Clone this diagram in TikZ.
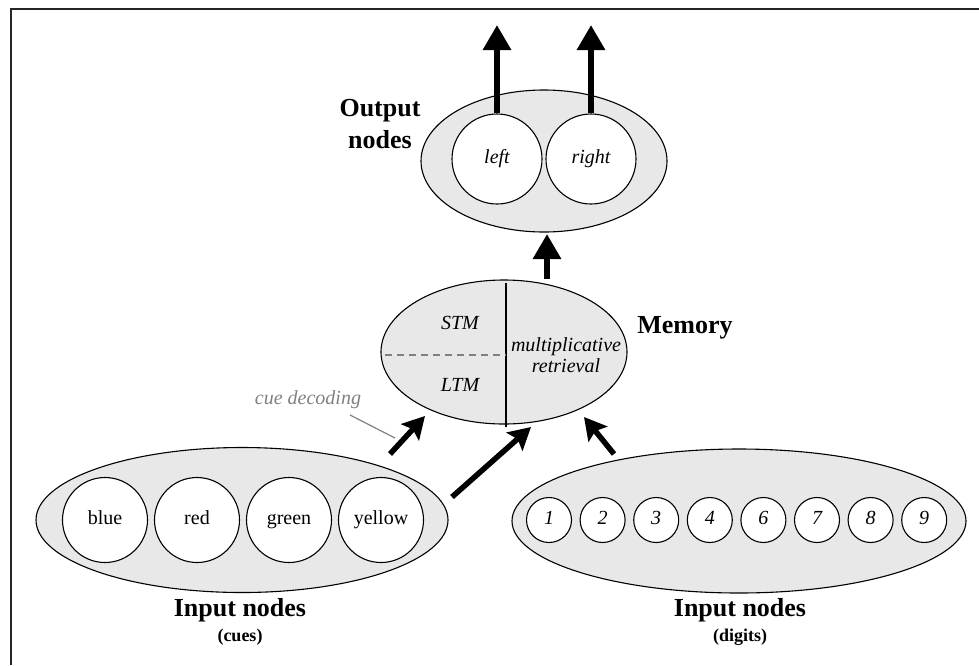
\documentclass[tikz,border=0pt]{standalone}
\usepackage{fontspec}
\setmainfont{Liberation Serif}
\usetikzlibrary{shapes.geometric,arrows.meta}
\begin{document}
\begin{tikzpicture}[x=1pt,y=-1pt,
  group/.style={ellipse,draw,line width=1.1pt,fill=gray!18,inner sep=0pt},
  unit/.style={circle,draw,line width=1.1pt,fill=white,inner sep=0pt,text height=13pt,text depth=4pt,font=\fontsize{20}{24}\selectfont},
  digit/.style={unit,minimum size=45pt,font=\fontsize{20}{24}\selectfont\itshape},
  cue/.style={unit,minimum size=85pt},
  outunit/.style={unit,minimum size=90pt,font=\fontsize{20}{24}\selectfont\itshape},
  title/.style={font=\fontsize{26}{32}\selectfont\bfseries,align=center,inner sep=0pt},
  sub/.style={font=\fontsize{18}{22}\selectfont\bfseries,inner sep=0pt},
  lab/.style={font=\fontsize{20}{21}\selectfont\itshape,align=center,inner sep=0pt},
  bigarrow/.style={line width=6pt,-{Triangle[length=25pt,width=27pt]}},
  midarrow/.style={line width=5.5pt,-{Stealth[length=22pt,width=24pt,inset=4pt]}}
]
\useasboundingbox (0,0) rectangle (979,665);
% frame
\draw[line width=1.2pt,black!85] (979,9) -- (11,9) -- (11,665);

% output group
\node[group,minimum width=246pt,minimum height=142pt] (outg) at (544,161) {};
\node[outunit] (left) at (497,159) {left};
\node[outunit] (right) at (591,159) {right};
\node[title] (outlab) at (380,124) {Output\\nodes};
\coordinate (lefttop) at (497,25);
\coordinate (righttop) at (591,25);
\draw[bigarrow] (left.north) -- (lefttop);
\draw[bigarrow] (right.north) -- (righttop);

% memory
\node[group,minimum width=246pt,minimum height=144pt] (mem) at (504,352) {};
\coordinate (vtop) at (506,283);
\coordinate (vbot) at (506,427);
\draw[line width=1.2pt] (vtop) -- (vbot);
\coordinate (dl) at (385,355);
\coordinate (dr) at (506,355);
\draw[gray,line width=1.4pt,dash pattern=on 7pt off 5pt] (dl) -- (dr);
\node[lab] (stm) at (460,323) {STM};
\node[lab] (ltm) at (460,385) {LTM};
\node[lab] (mr) at (566,355) {multiplicative\\retrieval};
\node[title] (memlab) at (685,328) {Memory};
\coordinate (membase) at (547,279);
\coordinate (memtip) at (547,234);
\draw[bigarrow] (membase) -- (memtip);

% cue decoding
\node[lab,text=gray] (cuedec) at (308,400) {cue decoding};
\coordinate (cd1) at (350,415);
\coordinate (cd2) at (395,438);
\draw[gray,line width=1.2pt] (cd1) -- (cd2);

% cues group
\node[group,minimum width=412pt,minimum height=145pt] (cues) at (242,520) {};
\node[cue] (blue) at (105,520) {blue};
\node[cue] (red) at (197,520) {red};
\node[cue] (green) at (289,520) {green};
\node[cue] (yellow) at (381,520) {yellow};
\node[title] (inlab1) at (240,610) {Input nodes};
\node[sub] (cueslab) at (240,637) {(cues)};

% digits group
\node[group,minimum width=454pt,minimum height=144pt] (digits) at (739,521) {};
\foreach \d [count=\i from 0] in {1,2,3,4,6,7,8,9}{
  \node[digit] (d\d) at (549+53.6*\i,520) {\d};
}
\node[title] (inlab2) at (740,610) {Input nodes};
\node[sub] (digitslab) at (740,637) {(digits)};

% arrows into memory
\coordinate (a1s) at (390,454);
\coordinate (a1e) at (425,416);
\coordinate (a2s) at (452,497);
\coordinate (a2e) at (531,427);
\coordinate (a3s) at (614,454);
\coordinate (a3e) at (584,417);
\draw[midarrow] (a1s) -- (a1e);
\draw[midarrow] (a2s) -- (a2e);
\draw[midarrow] (a3s) -- (a3e);
\end{tikzpicture}
\end{document}
